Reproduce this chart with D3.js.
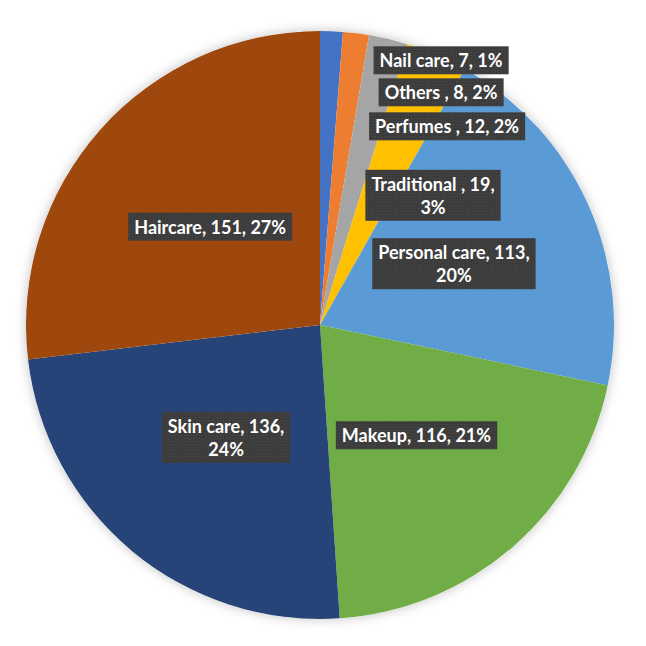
<!DOCTYPE html>
<html>
<head>
<meta charset="utf-8">
<script src="https://cdn.jsdelivr.net/npm/d3@7"></script>
<style>
  body { margin: 0; background: #fff; }
  text { font-family: Lato, "Open Sans", sans-serif; font-weight: bold; fill: #fff; }
</style>
</head>
<body>
<svg id="canvas" width="646" height="646"></svg>
<script>
// ************************************************************************************** //
// Data

var categories = ['Nail care', 'Others ', 'Perfumes ', 'Traditional ', 'Personal care', 'Makeup', 'Skin care', 'Haircare'];
var values = [7, 8, 12, 19, 113, 116, 136, 151];
var percents = ['1%', '2%', '2%', '3%', '20%', '21%', '24%', '27%'];
var colors = ['#4472C4', '#ED7D31', '#A5A5A5', '#FFC000', '#5B9BD5', '#70AD47', '#264478', '#9E480E'];

// where each label wraps, like the original
var wrap_after = [0, 0, 0, 2, 2, 0, 2, 0];

// small slices had their labels dragged out of the pie centre
var moved_labels = { 0: [441, 61], 1: [441, 93], 2: [447, 127], 3: [433, 196] };

// ************************************************************************************** //
// Layout

var cx = 320, cy = 325, radius = 294;
var font_size = 18, line_h = 23;

var svg = d3.select('#canvas');
var defs = svg.append('defs');

var f = defs.append('filter').attr('id', 'shadow').attr('x', '-10%').attr('y', '-10%').attr('width', '120%').attr('height', '120%');
f.append('feGaussianBlur').attr('in', 'SourceAlpha').attr('stdDeviation', 6);
f.append('feComponentTransfer').append('feFuncA').attr('type', 'linear').attr('slope', 0.25);
var fm = f.append('feMerge');
fm.append('feMergeNode');
fm.append('feMergeNode').attr('in', 'SourceGraphic');

var pat = defs.append('pattern').attr('id', 'dots').attr('width', 3).attr('height', 3).attr('patternUnits', 'userSpaceOnUse');
pat.append('rect').attr('width', 3).attr('height', 3).attr('fill', '#3c3c3c');
pat.append('rect').attr('width', 1).attr('height', 1).attr('fill', '#4a4a4a');

var pie = d3.pie().sort(null).value(function(d){ return d; });
var arcs = pie(values);
var arc = d3.arc().innerRadius(0).outerRadius(radius);
var label_arc = d3.arc().innerRadius(radius*0.5).outerRadius(radius*0.5);

var pie_g = svg.append('g').attr('transform', 'translate(' +cx+ ',' +cy+ ')');

pie_g.append('circle').attr('r', radius).attr('fill', '#fff').attr('filter', 'url(#shadow)');

pie_g.selectAll('path.slice').data(arcs).enter().append('path')
  .attr('class', 'slice')
  .attr('d', arc)
  .attr('fill', function(d, i){ return colors[i]; });

// ************************************************************************************** //
// Labels

var labels_g = svg.append('g');
for(var i = 0; i < arcs.length; i++){
  var pos;
  if(moved_labels[i]){ pos = moved_labels[i]; }
  else{
    var c = label_arc.centroid(arcs[i]);
    pos = [cx + c[0], cy + c[1]];
  }
  var parts = [categories[i], String(values[i]), percents[i]];
  var lines;
  if(wrap_after[i] == 2){ lines = [parts[0] + ', ' + parts[1] + ',', parts[2]]; }
  else{ lines = [parts.join(', ')]; }

  var g = labels_g.append('g').attr('transform', 'translate(' +pos[0]+ ',' +pos[1]+ ')');
  var box = g.append('rect');
  var txt = g.append('text').attr('text-anchor', 'middle').style('font-size', font_size + 'px');
  var first_y = -(lines.length - 1)*line_h/2;
  lines.forEach(function(l, k){
    txt.append('tspan').attr('x', 0).attr('y', first_y + k*line_h).attr('dy', '0.35em').text(l);
  });
  var bb = txt.node().getBBox();
  box.attr('x', bb.x - 6).attr('y', bb.y - 3).attr('width', bb.width + 12).attr('height', bb.height + 6)
    .attr('fill', 'url(#dots)');
}
</script>
</body>
</html>
